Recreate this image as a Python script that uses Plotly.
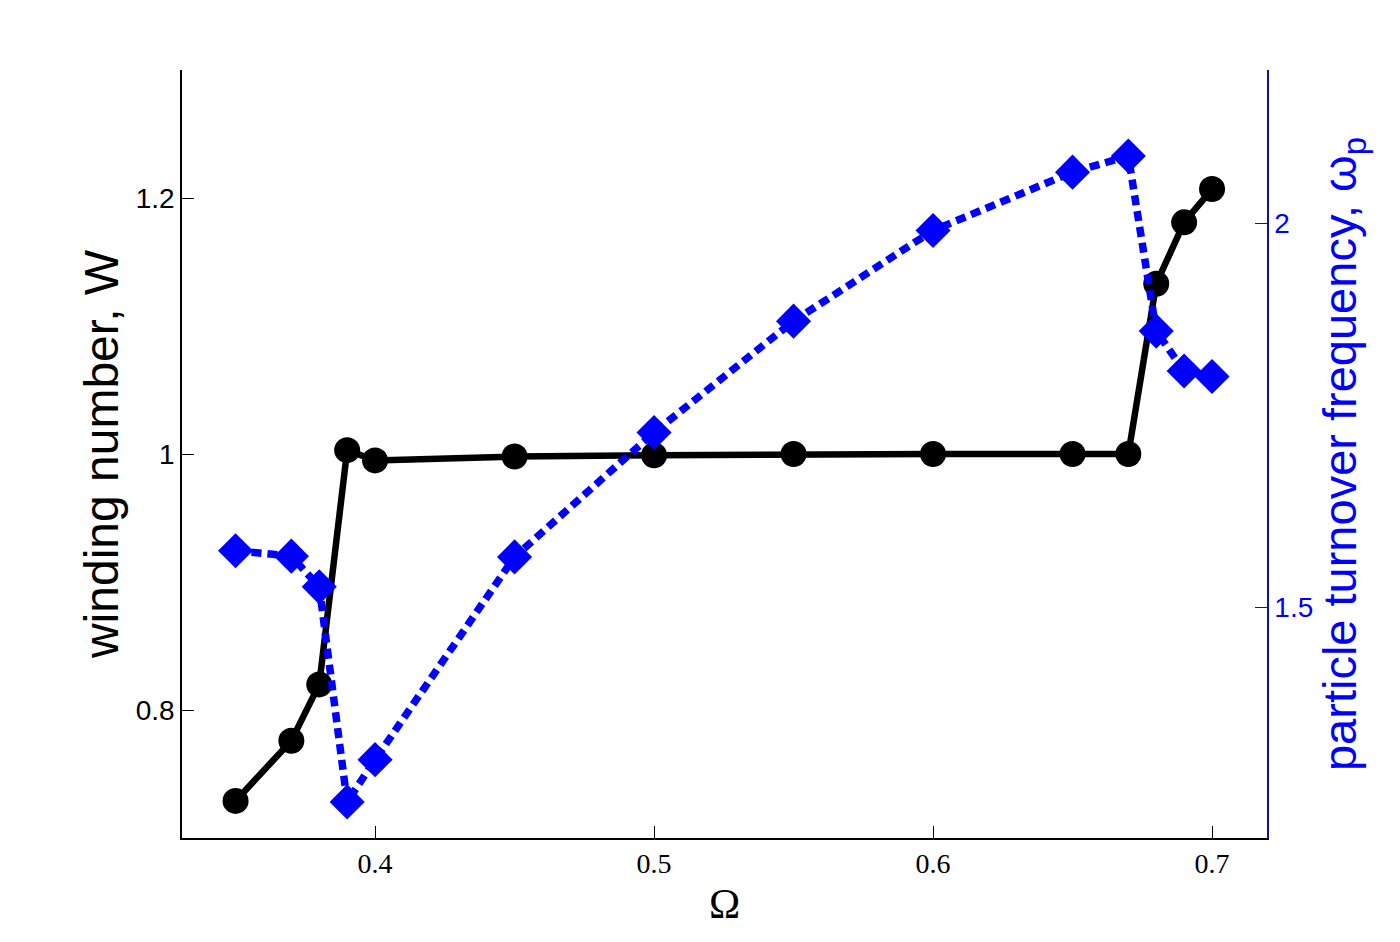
import plotly.graph_objects as go

omega = [0.35, 0.37, 0.38, 0.39, 0.40, 0.45, 0.50, 0.55, 0.60, 0.65, 0.67, 0.68, 0.69, 0.70]
winding = [0.729, 0.776, 0.820, 1.003, 0.995, 0.998, 0.999, 1.000, 1.000, 1.000, 1.000, 1.133, 1.181, 1.207]
freq = [1.574, 1.567, 1.527, 1.247, 1.302, 1.566, 1.728, 1.873, 1.991, 2.067, 2.088, 1.860, 1.808, 1.801]

x_ticks = [0.4, 0.5, 0.6, 0.7]
y1_ticks = [0.8, 1.0, 1.2]
y1_labels = ["0.8", "1", "1.2"]
y2_ticks = [1.5, 2.0]
y2_labels = ["1.5", "2"]

fig = go.Figure()
fig.add_trace(go.Scatter(
    x=omega, y=winding, mode="lines+markers",
    line=dict(color="black", width=6.5),
    marker=dict(symbol="circle", size=26, color="black"),
    yaxis="y", showlegend=False))
fig.add_trace(go.Scatter(
    x=omega, y=freq, mode="lines+markers",
    line=dict(color="#0000FF", width=7.5, dash="10px,6px"),
    marker=dict(symbol="diamond", size=27, color="#0000FF"),
    yaxis="y2", showlegend=False))

fig.update_layout(
    width=1400, height=942,
    paper_bgcolor="white", plot_bgcolor="white",
    margin=dict(l=174, r=141, t=62, b=112),
    xaxis=dict(range=[0.3308, 0.7197], tickvals=x_ticks, ticktext=[str(v) for v in x_ticks],
               showgrid=False, zeroline=False, showline=True, linecolor="black", linewidth=1.5,
               ticks="inside", ticklen=12, tickcolor="black",
               tickfont=dict(family="Liberation Serif", size=28, color="black"),
               title=dict(text="Ω", font=dict(family="Liberation Serif", size=42, color="black"), standoff=10)),
    yaxis=dict(range=[0.7, 1.3], tickvals=y1_ticks, ticktext=y1_labels,
               showgrid=False, zeroline=False, showline=True, linecolor="black", linewidth=1.5,
               ticks="inside", ticklen=12, tickcolor="black",
               tickfont=dict(family="Liberation Sans", size=28, color="black"),
               title=dict(text="winding number, W", font=dict(family="Liberation Sans", size=48, color="black"), standoff=2)),
    yaxis2=dict(range=[1.2, 2.2], tickvals=y2_ticks, ticktext=y2_labels, overlaying="y", side="right",
                showgrid=False, zeroline=False, showline=True, linecolor="#1010A0", linewidth=1.5,
                ticks="inside", ticklen=12, tickcolor="#1010A0",
                tickfont=dict(family="Liberation Sans", size=28, color="#0000FF"),
                title=dict(text="particle turnover frequency, ω<sub>p</sub>",
                           font=dict(family="Liberation Sans", size=47, color="#0000FF"), standoff=10)),
)

fig.write_html("out.html")
